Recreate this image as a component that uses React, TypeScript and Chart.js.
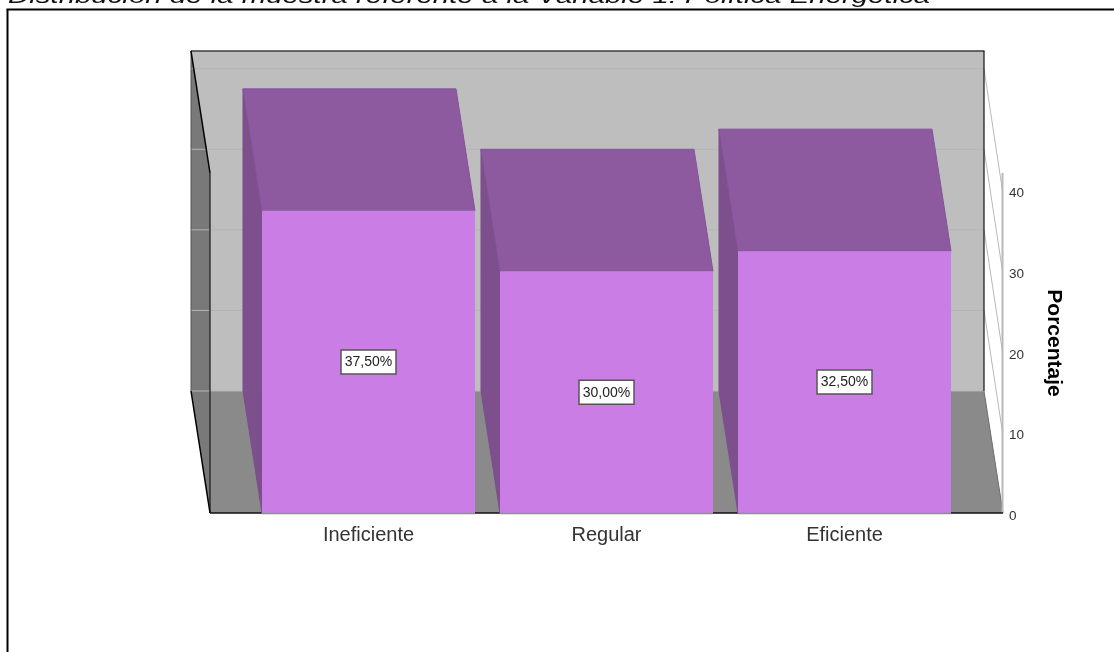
import React, { useEffect, useRef } from "react";
import { Chart, registerables } from "chart.js";

Chart.register(...registerables);

const categories = ["Ineficiente", "Regular", "Eficiente"];
const porcentajes = [37.5, 30, 32.5];
const titulo = "Distribución de la muestra referente a la Variable 1: Política Energética";
const ejeY = "Porcentaje";

const FONT = '"Liberation Sans", Arial, sans-serif';
const DEPTH_X = 19;
const DEPTH_Y = 122;
const FLOOR_MARGIN = 39.5;

const polygon = (ctx: CanvasRenderingContext2D, pts: number[][], fill: string | null, stroke?: string, lw = 1) => {
  ctx.beginPath();
  pts.forEach(([x, y], i) => (i ? ctx.lineTo(x, y) : ctx.moveTo(x, y)));
  ctx.closePath();
  if (fill) {
    ctx.fillStyle = fill;
    ctx.fill();
  }
  if (stroke) {
    ctx.strokeStyle = stroke;
    ctx.lineWidth = lw;
    ctx.stroke();
  }
};

const segment = (ctx: CanvasRenderingContext2D, x1: number, y1: number, x2: number, y2: number, color: string, lw = 1) => {
  ctx.beginPath();
  ctx.moveTo(x1, y1);
  ctx.lineTo(x2, y2);
  ctx.strokeStyle = color;
  ctx.lineWidth = lw;
  ctx.stroke();
};

// Back wall, floor, side wall, grid lines and the receding faces of each bar.
const scenePlugin = {
  id: "scene3d",
  beforeDatasetsDraw(chart: any) {
    const { ctx, chartArea, scales } = chart;
    const y = scales.y;
    const frontLeft = chartArea.left - FLOOR_MARGIN;
    const frontRight = chartArea.right + FLOOR_MARGIN;
    const backLeft = frontLeft - DEPTH_X;
    const backRight = frontRight - DEPTH_X;
    const base = chartArea.bottom;
    const top = chartArea.top;
    const backBase = base - DEPTH_Y;
    const backTop = top - DEPTH_Y;

    ctx.save();

    // Sheet frame
    segment(ctx, 7.5, 652, 7.5, 9.5, "#000000", 2);
    segment(ctx, 6.5, 9.5, 1114, 9.5, "#000000", 2);

    // Chart heading, widened and cut off by the top of the sheet
    ctx.save();
    ctx.translate(8, 3);
    ctx.scale(1.47, 1);
    ctx.font = `italic 20px ${FONT}`;
    ctx.fillStyle = "#111111";
    ctx.textAlign = "left";
    ctx.textBaseline = "alphabetic";
    ctx.fillText(titulo, 0, 0);
    ctx.restore();

    polygon(ctx, [[backLeft, backTop], [backRight, backTop], [backRight, backBase], [backLeft, backBase]], "#bebebe");
    polygon(ctx, [[backLeft, backBase], [backRight, backBase], [frontRight, base], [frontLeft, base]], "#8a8a8a");
    polygon(ctx, [[backLeft, backTop], [frontLeft, top], [frontLeft, base], [backLeft, backBase]], "#797979");

    // Grid lines on the back wall and their connectors to the front axis
    y.ticks.forEach((t: any) => {
      const py = y.getPixelForValue(t.value);
      const gy = py - DEPTH_Y;
      segment(ctx, backLeft, gy, backRight, gy, "#b4b4b4", 1);
      if (t.value > 0) segment(ctx, backRight, gy, frontRight - 0.5, py, "#b8b8b8", 1);
    });

    segment(ctx, backLeft, backTop, backRight + 0.5, backTop, "#3c3c3c", 1.5);
    segment(ctx, backRight, backTop, backRight, backBase, "#111111", 1.2);
    segment(ctx, backLeft, backTop, backLeft, backBase, "#555555", 1);
    segment(ctx, backLeft, backTop, frontLeft, top, "#000000", 1.5);
    segment(ctx, frontLeft, top, frontLeft, base, "#1a1a1a", 1.2);
    segment(ctx, backLeft, backBase, frontLeft, base, "#000000", 1.5);
    segment(ctx, backRight, backBase, frontRight, base, "#6e6e6e", 1);
    segment(ctx, frontRight - 0.5, top, frontRight - 0.5, base, "#b8b8b8", 2);
    segment(ctx, frontLeft, base, frontRight, base, "#111111", 1.5);

    // Receding side and top of every bar
    chart.getDatasetMeta(0).data.forEach((bar: any) => {
      const { x, y: barTop, base: barBase, width } = bar.getProps(["x", "y", "base", "width"], true);
      const l = x - width / 2;
      const r = x + width / 2;
      polygon(ctx, [[l - DEPTH_X, barTop - DEPTH_Y], [l, barTop], [l, barBase], [l - DEPTH_X, barBase - DEPTH_Y]], "#7d4f8d", "#7d4f8d", 1);
      polygon(ctx, [[l - DEPTH_X, barTop - DEPTH_Y], [r - DEPTH_X, barTop - DEPTH_Y], [r, barTop], [l, barTop]], "#8e5a9f", "#83539a", 1);
    });

    ctx.restore();
  },
  afterDatasetsDraw(chart: any) {
    const { ctx, chartArea } = chart;
    ctx.save();
    chart.getDatasetMeta(0).data.forEach((bar: any) => {
      const { x, width } = bar.getProps(["x", "width"], true);
      segment(ctx, x - width / 2, chartArea.bottom + 0.5, x + width / 2, chartArea.bottom + 0.5, "#8f8f8f", 1.5);
    });

    // Value boxes in the middle of each bar's front face
    ctx.font = `14px ${FONT}`;
    ctx.textAlign = "center";
    ctx.textBaseline = "middle";
    chart.getDatasetMeta(0).data.forEach((bar: any, i: number) => {
      const { x, y: barTop, base: barBase } = bar.getProps(["x", "y", "base"], true);
      const cy = (barTop + barBase) / 2;
      const text = porcentajes[i].toFixed(2).replace(".", ",") + "%";
      ctx.fillStyle = "#ffffff";
      ctx.strokeStyle = "#555555";
      ctx.lineWidth = 1.5;
      ctx.beginPath();
      ctx.rect(x - 27.5, cy - 12, 55, 24);
      ctx.fill();
      ctx.stroke();
      ctx.fillStyle = "#222222";
      ctx.fillText(text, x, cy + 0.5);
    });
    ctx.restore();
  },
};

export default function App() {
  const ref = useRef<HTMLCanvasElement>(null);

  useEffect(() => {
    document.body.style.margin = "0";
    const chart = new Chart(ref.current as HTMLCanvasElement, {
      type: "bar",
      data: {
        labels: categories,
        datasets: [
          {
            label: ejeY,
            data: porcentajes,
            backgroundColor: "#ca7ee5",
            borderWidth: 0,
            barPercentage: 0.895,
            categoryPercentage: 1,
          },
        ],
      },
      options: {
        animation: false,
        responsive: false,
        layout: { padding: { left: 249.5, top: 173, right: 0, bottom: 0 } },
        plugins: { legend: { display: false }, title: { display: false }, tooltip: { enabled: false } },
        scales: {
          x: {
            grid: { display: false },
            border: { display: false },
            ticks: { color: "#333333", padding: 2, font: { family: FONT, size: 20 }, maxRotation: 0 },
            afterFit: (s: any) => {
              s.height = 139;
            },
          },
          y: {
            position: "right",
            min: 0,
            max: 42.2,
            grid: { display: false, drawTicks: false },
            border: { display: false },
            ticks: {
              stepSize: 10,
              includeBounds: false,
              color: "#333333",
              padding: 45.5,
              labelOffset: 3,
              font: { family: FONT, size: 13.5 },
            },
            title: {
              display: true,
              text: ejeY,
              color: "#000000",
              padding: { top: 48, bottom: 0 },
              font: { family: FONT, size: 21, weight: "bold" },
            },
            afterFit: (s: any) => {
              s.width = 150.5;
            },
          },
        },
      },
      plugins: [scenePlugin],
    } as any);
    return () => chart.destroy();
  }, []);

  return <canvas ref={ref} width={1114} height={652} style={{ display: "block" }} />;
}
